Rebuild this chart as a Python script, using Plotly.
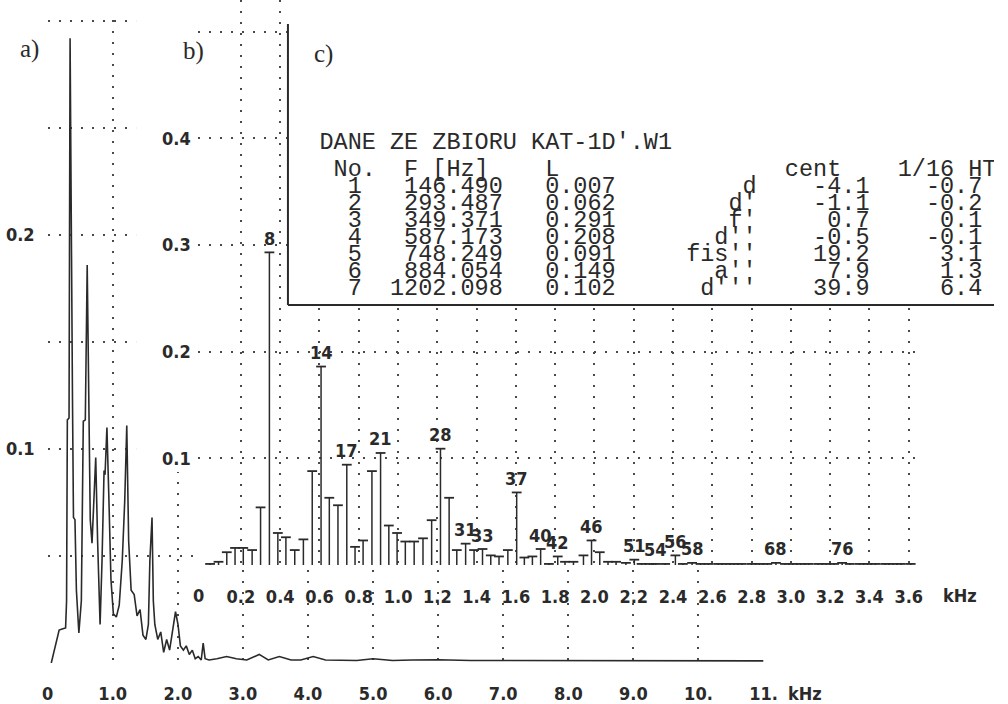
import plotly.graph_objects as go

W, H = 1008, 704

# ---------------- panel a: continuous spectrum (kHz, relative level) ----------------
spec_khz = [0.056, 0.117, 0.177, 0.223, 0.276, 0.291, 0.303, 0.329, 0.345, 0.382,
            0.397, 0.420, 0.442, 0.480, 0.518, 0.548, 0.579, 0.608, 0.639, 0.655,
            0.682, 0.708, 0.739, 0.768, 0.806, 0.836, 0.867, 0.882, 0.911, 0.942,
            0.973, 1.010, 1.056, 1.100, 1.147, 1.185, 1.216, 1.245, 1.283, 1.330,
            1.374, 1.420, 1.465, 1.510, 1.548, 1.571, 1.604, 1.624, 1.647, 1.692,
            1.738, 1.783, 1.829, 1.874, 1.920, 1.965, 2.003, 2.040, 2.086, 2.130,
            2.177, 2.223, 2.268, 2.314, 2.360, 2.390, 2.420, 2.480, 2.600, 2.750,
            2.900, 3.060, 3.250, 3.390, 3.560, 3.740, 3.890, 4.080, 4.270, 4.500,
            4.750, 5.000, 5.300, 5.600, 6.000, 6.500, 7.000, 7.500, 8.000, 8.500,
            9.000, 9.500, 10.000, 10.500, 11.000]
spec_amp = [0.000, 0.0084, 0.0154, 0.0159, 0.0164, 0.029, 0.1136, 0.1145, 0.292, 0.123,
            0.068, 0.067, 0.034, 0.014, 0.029, 0.113, 0.1136, 0.186, 0.109, 0.067,
            0.056, 0.076, 0.096, 0.057, 0.018, 0.048, 0.090, 0.088, 0.110, 0.076,
            0.039, 0.023, 0.0215, 0.027, 0.048, 0.076, 0.111, 0.057, 0.034, 0.032,
            0.022, 0.025, 0.013, 0.011, 0.018, 0.048, 0.068, 0.029, 0.018, 0.011,
            0.0145, 0.005, 0.011, 0.006, 0.0154, 0.024, 0.018, 0.008, 0.006, 0.008,
            0.004, 0.006, 0.002, 0.003, 0.0014, 0.0093, 0.002, 0.0014, 0.002, 0.003,
            0.002, 0.0014, 0.004, 0.0014, 0.003, 0.0014, 0.0014, 0.003, 0.0014, 0.0014,
            0.0012, 0.002, 0.0012, 0.0014, 0.0015, 0.0012, 0.0012, 0.0012, 0.0012, 0.0012,
            0.0010, 0.0010, 0.0010, 0.0010, 0.0010]

a_xtick_vals = [0, 1, 2, 3, 4, 5, 6, 7, 8, 9, 10, 11]
a_xtick_text = ["0", "1.0", "2.0", "3.0", "4.0", "5.0", "6.0", "7.0", "8.0", "9.0", "10.", "11."]
a_ytick_vals = [0.1, 0.2]
a_ytick_text = ["0.1", "0.2"]
a_ygrid_minor = [0.0, 0.05, 0.15, 0.25, 0.3]

# ---------------- panel b: spectral lines (kHz, level) ----------------
stem_khz = [0.043, 0.086, 0.128, 0.170, 0.212, 0.257, 0.300, 0.345, 0.388, 0.429,
            0.474, 0.518, 0.563, 0.608, 0.650, 0.694, 0.739, 0.781, 0.822, 0.867,
            0.911, 0.953, 0.995, 1.037, 1.082, 1.127, 1.171, 1.216, 1.260, 1.299,
            1.344, 1.387, 1.430, 1.472, 1.514, 1.559, 1.604, 1.643, 1.684, 1.726,
            1.768, 1.813, 1.850, 1.893, 1.944, 1.985, 2.027, 2.069, 2.110, 2.160,
            2.203, 2.240, 2.280, 2.312, 2.360, 2.412, 2.450, 2.497, 2.540, 2.580,
            2.630, 2.670, 2.710, 2.750, 2.800, 2.840, 2.880, 2.924, 2.970, 3.010,
            3.050, 3.090, 3.140, 3.180, 3.220, 3.261, 3.300, 3.350, 3.390, 3.430,
            3.480, 3.520, 3.560, 3.610]
stem_amp = [0.001, 0.003, 0.012, 0.016, 0.016, 0.014, 0.054, 0.293, 0.030, 0.026,
            0.014, 0.024, 0.088, 0.186, 0.063, 0.056, 0.094, 0.017, 0.023, 0.088,
            0.105, 0.037, 0.030, 0.022, 0.022, 0.025, 0.042, 0.109, 0.063, 0.014,
            0.020, 0.014, 0.015, 0.009, 0.008, 0.014, 0.068, 0.007, 0.008, 0.015,
            0.001, 0.008, 0.003, 0.003, 0.009, 0.023, 0.012, 0.003, 0.003, 0.002,
            0.005, 0.001, 0.001, 0.001, 0.001, 0.009, 0.001, 0.002, 0.001, 0.001,
            0.001, 0.001, 0.001, 0.001, 0.001, 0.001, 0.001, 0.002, 0.001, 0.001,
            0.001, 0.001, 0.001, 0.001, 0.001, 0.002, 0.001, 0.001, 0.001, 0.001,
            0.001, 0.001, 0.001, 0.001]
stem_numbered = [8, 14, 17, 21, 28, 31, 33, 37, 40, 42, 46, 51, 54, 56, 58, 68, 76]

b_xtick_vals = [0, 0.2, 0.4, 0.6, 0.8, 1.0, 1.2, 1.4, 1.6, 1.8, 2.0, 2.2, 2.4, 2.6, 2.8, 3.0, 3.2, 3.4, 3.6]
b_xtick_text = ["0", "0.2", "0.4", "0.6", "0.8", "1.0", "1.2", "1.4", "1.6", "1.8",
                "2.0", "2.2", "2.4", "2.6", "2.8", "3.0", "3.2", "3.4", "3.6"]
b_ytick_vals = [0, 0.1, 0.2, 0.3, 0.4, 0.5]
b_ytick_text = ["", "0.1", "0.2", "0.3", "0.4", ""]

# ---------------- panel c: table of partials ----------------
table_title = "DANE ZE ZBIORU KAT-1D'.W1"
table_head = ["No.", "F [Hz]", "L", "cent", "1/16 HT"]
tab_no = [1, 2, 3, 4, 5, 6, 7]
tab_freq = [146.490, 293.487, 349.371, 587.173, 748.249, 884.054, 1202.098]
tab_level = [0.007, 0.062, 0.291, 0.208, 0.091, 0.149, 0.102]
tab_note = ["d", "d'", "f'", "d''", "fis''", "a''", "d'''"]
tab_cent = [-4.1, -1.1, 0.7, -0.5, 19.2, 7.9, 39.9]
tab_ht = [-0.7, -0.2, 0.1, -0.1, 3.1, 1.3, 6.4]

# ---------------- styling ----------------
INK = "#2a2a2a"
GRID = "#4a4a4a"
DOT = "2px,9px"
BOLD = dict(family="DejaVu Sans Condensed, DejaVu Sans", size=18, color=INK, weight="bold")
MONO = dict(family="Liberation Mono, DejaVu Sans Mono", size=23.5, color=INK)
SERIF = dict(family="Liberation Serif, DejaVu Serif", size=25, color=INK)
NB = "\u00a0"


def fx(p):
    return p / W


def fy(p):
    return 1 - p / H


def place(parts, width=48):
    """Lay out (column, text) pairs on a fixed character grid."""
    cells = [" "] * width
    for col, txt in parts:
        for i, ch in enumerate(txt):
            cells[col + i] = ch
    return "".join(cells).rstrip().replace(" ", NB)


fig = go.Figure()

# panel a curve
fig.add_trace(go.Scatter(x=spec_khz, y=spec_amp, mode="lines", xaxis="x", yaxis="y",
                         line=dict(color=INK, width=1.6), hoverinfo="skip", showlegend=False))

# empty layer that blanks panel a's grid to the left of panel b
fig.add_trace(go.Scatter(x=[None], y=[None], xaxis="x2", yaxis="y2",
                         hoverinfo="skip", showlegend=False))

# panel b stems with T caps
sx, sy = [], []
for f, a in zip(stem_khz, stem_amp):
    sx += [f, f, None]
    sy += [0, a, None]
fig.add_trace(go.Scatter(x=sx, y=sy, mode="lines", xaxis="x3", yaxis="y3",
                         line=dict(color=INK, width=1.5), hoverinfo="skip", showlegend=False))
fig.add_trace(go.Scatter(x=stem_khz, y=stem_amp, mode="markers", xaxis="x3", yaxis="y3",
                         marker=dict(symbol="line-ew", size=7, line=dict(color=INK, width=1.8)),
                         hoverinfo="skip", showlegend=False, cliponaxis=False))

# panel c table: fixed-width lines (x: px from box edge, y: px from top)
head_cols = [1, 6, 16, 33, 41]
lines = [table_title.replace(" ", NB),
         place(list(zip(head_cols, table_head)))]
for no, fr, lv, nt, ce, ht in zip(tab_no, tab_freq, tab_level, tab_note, tab_cent, tab_ht):
    row = f"{no:>3}{fr:>10.3f}   {lv:.3f}{nt:>10}{ce:>8.1f}{ht:>8.1f}"
    lines.append(row.replace(" ", NB))
line_y = [143, 170, 187, 204, 221, 238, 255, 272, 289]
fig.add_trace(go.Scatter(x=[32] * len(lines), y=line_y, text=lines, mode="text",
                         textposition="middle right", textfont=MONO, xaxis="x4", yaxis="y4",
                         hoverinfo="skip", showlegend=False))

grid = dict(showgrid=True, gridcolor=GRID, griddash=DOT, gridwidth=1.6)

fig.update_layout(
    width=W, height=H, autosize=False,
    margin=dict(l=0, r=0, t=0, b=0),
    paper_bgcolor="white", plot_bgcolor="white",
    showlegend=False,
    # panel a
    xaxis=dict(domain=[fx(48.3), fx(774.3)], range=[0, 11], anchor="y",
               tickvals=a_xtick_vals[1:], ticktext=a_xtick_text[1:], tickfont=BOLD,
               ticks="", ticklabelstandoff=18, zeroline=False, showline=False, **grid),
    yaxis=dict(domain=[fy(663), fy(20)], range=[0, 0.3005], anchor="x",
               tickvals=a_ytick_vals, ticktext=a_ytick_text, tickfont=BOLD,
               ticks="", ticklabelstandoff=12, zeroline=False, showline=False,
               minor=dict(tickvals=a_ygrid_minor, showgrid=True, gridcolor=GRID,
                          griddash=DOT, gridwidth=1.6),
               **grid),
    # blank strip
    xaxis2=dict(domain=[fx(138), fx(200.5)], range=[0, 1], anchor="y2", visible=False),
    yaxis2=dict(domain=[fy(472), 1], range=[0, 1], anchor="x2", visible=False),
    # panel b
    xaxis3=dict(domain=[fx(200.5), fx(927.5)], range=[-0.02, 3.63], anchor="y3",
                tickvals=b_xtick_vals[1:], ticktext=b_xtick_text[1:], tickfont=BOLD,
                ticks="", ticklabelstandoff=19, zeroline=False, showline=False, **grid),
    yaxis3=dict(domain=[fy(565), 1], range=[0, 565 / 1067], anchor="x3",
                tickvals=b_ytick_vals, ticktext=b_ytick_text, tickfont=BOLD,
                ticks="", ticklabelstandoff=6, zeroline=False, showline=False, **grid),
    # panel c
    xaxis4=dict(domain=[fx(292), 1], range=[0, W - 292], anchor="y4", visible=False),
    yaxis4=dict(domain=[fy(305), 1], range=[305, 0], anchor="x4", visible=False),
)

ann = []
centre = dict(showarrow=False, xanchor="center", yanchor="middle")
# the zero labels without grid lines
ann.append(dict(x=a_xtick_vals[0], y=0, xref="x", yref="y", text=a_xtick_text[0],
                yshift=-30, font=BOLD, **centre))
ann.append(dict(x=b_xtick_vals[0], y=0, xref="x3", yref="y3", text=b_xtick_text[0],
                yshift=-30, xshift=-3, font=BOLD, **centre))
# unit labels
ann.append(dict(x=fx(816), y=fy(693), xref="paper", yref="paper", text="kHz",
                font=BOLD, **centre))
ann.append(dict(x=fx(974), y=fy(595), xref="paper", yref="paper", text="kHz",
                font=BOLD, **centre))
# partial numbers above selected lines
for n in stem_numbered:
    ann.append(dict(x=stem_khz[n - 1], y=stem_amp[n - 1], xref="x3", yref="y3", text=str(n),
                    yshift=14, font=BOLD, **centre))
# panel letters
for txt, px, py in [("a)", 30, 49), ("b)", 196, 51), ("c)", 328, 54)]:
    ann.append(dict(x=fx(px), y=fy(py), xref="paper", yref="paper", text=txt,
                    font=SERIF, **centre))
fig.update_layout(annotations=ann)

# frame of the table box
fig.update_layout(shapes=[
    dict(type="line", xref="paper", yref="paper", x0=fx(292), x1=fx(292), y0=fy(24), y1=fy(305),
         line=dict(color=INK, width=2)),
    dict(type="line", xref="paper", yref="paper", x0=fx(292), x1=1, y0=fy(305), y1=fy(305),
         line=dict(color=INK, width=2)),
])

fig.write_html("out.html")
